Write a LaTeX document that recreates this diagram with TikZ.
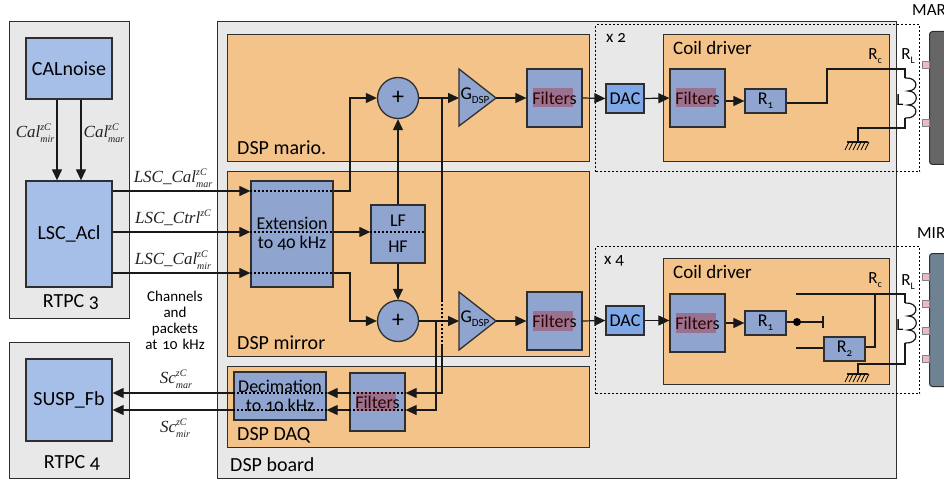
\documentclass[tikz,border=0pt]{standalone}
\usepackage{fontspec}
\usetikzlibrary{arrows.meta,shapes.geometric,calc}
\setmainfont[Numbers=OldStyle]{Carlito}
\newfontfamily\labfont{Liberation Serif}
\definecolor{panel}{HTML}{E8E8E8}
\definecolor{orng}{HTML}{F3C389}
\definecolor{lblue}{HTML}{A6BFE9}
\definecolor{mblue}{HTML}{8FA4CF}
\definecolor{dacblue}{HTML}{80A8E6}
\definecolor{edge}{HTML}{2F2F2F}
\definecolor{pinkp}{HTML}{EDB8C8}
\definecolor{marg}{HTML}{666666}
\definecolor{mirg}{HTML}{6F8294}
\definecolor{labc}{HTML}{222222}
\newcommand{\fs}[1]{\fontsize{#1}{#1}\selectfont}
\newcommand{\stk}[3]{{\labfont\itshape\color{labc}\fs{17}#1\rlap{\raisebox{7pt}{\fs{10}#2}}\raisebox{-5pt}{\fs{10}#3}}}
\newcommand{\gndmark}[1]{%
  \draw[wire] ($(#1)+(-11,0)$) -- ($(#1)+(10,0)$);
  \foreach \k in {-8,-4,0,4,8,12}{\draw[line width=.8pt] ($(#1)+(\k-1,0)$) -- ($(#1)+(\k-5,8)$);}
}
\newcommand{\coilpath}[2]{%
  \draw[wire] (#1) .. controls ($(#1)+(14,-1)$) and ($(#1)+(14,13)$) .. ($(#1)+(3,13)$)
   .. controls ($(#1)+(14,13)$) and ($(#1)+(14,27)$) .. ($(#1)+(3,27)$)
   .. controls ($(#1)+(14,27)$) and ($(#1)+(14,41)$) .. (#2);
}
\tikzset{
  x=1pt,y=-1pt,
  wire/.style={line width=1.2pt,draw=black!90},
  arr/.style={wire,-{Triangle[length=11pt,width=10pt]}},
  dots/.style={line width=1.1pt,draw=black,dash pattern=on 2pt off 2pt},
  frame/.style={draw=edge,line width=1.2pt,anchor=north west,inner sep=0pt},
  pan/.style={frame,fill=panel},
  org/.style={frame,fill=orng},
  lbox/.style={draw=edge,line width=1.3pt,fill=lblue,inner sep=0pt,font=\fs{20}},
  mbox/.style={draw=edge,line width=1.3pt,fill=mblue,inner sep=0pt,font=\fs{18},align=center},
  dacbox/.style={draw=edge,line width=1.3pt,fill=dacblue,inner sep=0pt,font=\fs{18}},
  circ/.style={circle,draw=edge,line width=1.3pt,fill=mblue,minimum size=41pt,inner sep=0pt,font=\fs{24}},
  tri/.style={draw=edge,line width=1.3pt,fill=mblue},
  title/.style={anchor=west,inner sep=0pt,font=\fs{20}},
  ctitle/.style={inner sep=0pt,font=\fs{20}},
  small/.style={inner sep=0pt,font=\fs{15},align=center},
  dbox/.style={draw=black,line width=1.1pt,dash pattern=on 2pt off 2pt,anchor=north west,inner sep=0pt},
  hl/.style={fill=red!70!black,fill opacity=.3,draw=none,inner sep=0pt,minimum width=40pt,minimum height=19.5pt},
  mass/.style={rounded corners=3pt,draw=edge,line width=1pt,anchor=north west,inner sep=0pt},
  padp/.style={draw=edge!60,line width=.6pt,fill=pinkp,minimum size=7pt,inner sep=0pt},
  rval/.style={inner sep=0pt,font=\fs{17}}
}
\begin{document}
\begin{tikzpicture}
\useasboundingbox (0,0) rectangle (944,481);
\clip (0,0) rectangle (944,481);
% panels
\node[pan,minimum width=120pt,minimum height=297pt] (rtpc3) at (9,21) {};
\node[pan,minimum width=120pt,minimum height=136pt] (rtpc4) at (9,342) {};
\node[pan,minimum width=679pt,minimum height=457pt] (board) at (217,21) {};
\node[org,minimum width=362pt,minimum height=127pt] (mario) at (227,34) {};
\node[org,minimum width=362pt,minimum height=185pt] (mirror) at (227,171) {};
\node[org,minimum width=362pt,minimum height=81pt] (daq) at (227,366) {};
\node[org,minimum width=226pt,minimum height=127pt] (coila) at (663,34) {};
\node[org,minimum width=226pt,minimum height=126pt] (coilb) at (663,258) {};
\node[dbox,minimum width=324pt,minimum height=147pt] (xa) at (595,24) {};
\node[dbox,minimum width=324pt,minimum height=147pt] (xb) at (595,246) {};
% masses
\node[mass,fill=marg,minimum width=40pt,minimum height=133pt] (marblock) at (929,31) {};
\node[mass,fill=mirg,minimum width=40pt,minimum height=133pt] (mirblock) at (929,253) {};
\node[padp] (pa1) at (926,65) {};
\node[padp] (pa2) at (926,123) {};
\node[padp] (pb1) at (926,277) {};
\node[padp] (pb2) at (926,304) {};
\node[padp] (pb3) at (926,331) {};
\node[padp] (pb4) at (926,359) {};
% blocks
\node[lbox,minimum width=86pt,minimum height=61pt] (cal) at (69,68.5) {CALnoise};
\node[lbox,minimum width=86pt,minimum height=106pt] (acl) at (69,234) {LSC\_Acl};
\node[lbox,minimum width=86pt,minimum height=82pt] (susp) at (69,400) {SUSP\_Fb};
\node[mbox,minimum width=82pt,minimum height=106pt] (ext) at (292,234) {Extension\\[1pt]to 40 kHz};
\node[mbox,minimum width=54pt,minimum height=58pt] (lfhf) at (398,234) {LF\\[8pt]HF};
\node[circ] (pa) at (398,98) {+};
\node[circ] (pb) at (398,321) {+};
\node[mbox,minimum width=55pt,minimum height=58pt] (fa) at (554.5,98) {Filters};
\node[mbox,minimum width=55pt,minimum height=58pt] (fb) at (554.5,321) {Filters};
\node[mbox,minimum width=55pt,minimum height=58pt] (fd) at (377.5,402) {Filters};
\node[mbox,minimum width=92pt,minimum height=48pt] (dec) at (280,396) {Decimation\\[1pt]to 10 kHz};
\node[dacbox,minimum width=38pt,minimum height=29pt] (daca) at (625,98.5) {DAC};
\node[dacbox,minimum width=38pt,minimum height=29pt] (dacb) at (625,320.5) {DAC};
\node[mbox,minimum width=55pt,minimum height=58pt] (fca) at (697.5,98) {Filters};
\node[mbox,minimum width=55pt,minimum height=58pt] (fcb) at (697.5,323) {Filters};
\node[mbox,minimum width=41pt,minimum height=24pt] (ra) at (765.5,101) {R\raisebox{-4pt}{\fs{11}1}};
\node[mbox,minimum width=41pt,minimum height=24pt] (rb) at (765.5,323) {R\raisebox{-4pt}{\fs{11}1}};
\node[mbox,minimum width=41pt,minimum height=24pt] (rc) at (844.5,349) {R\raisebox{-4pt}{\fs{11}2}};
% gains
\draw[tri] (459,69) -- (496,98) -- (459,126) -- cycle;
\draw[tri] (459,292) -- (496,321) -- (459,350) -- cycle;
\node[inner sep=0pt,font=\fs{18}] (ga) at (475,96) {G\raisebox{-4pt}{\fs{11}DSP}};
\node[inner sep=0pt,font=\fs{18}] (gb) at (475,319) {G\raisebox{-4pt}{\fs{11}DSP}};
\coordinate (gaw) at (459,98); \coordinate (gae) at (496,98);
\coordinate (gbw) at (459,321); \coordinate (gbe) at (496,321);
% coordinates of signal levels
\coordinate (ymar) at (0,191);
\coordinate (yctl) at (0,232);
\coordinate (ymir) at (0,273);
\coordinate (yca) at (0,393);
\coordinate (ycb) at (0,410);
\coordinate (xa1) at (350,0);
\coordinate (vA) at (442,98);
\coordinate (vB) at (436,321);
\coordinate (vAs) at (442,300);
\coordinate (vAe) at (442,345);
% connectors
\draw[arr] (cal.south -| 57,0) -- (acl.north -| 57,0);
\draw[arr] (cal.south -| 81,0) -- (acl.north -| 81,0);
\draw[arr] (acl.east |- ymar) -- (ext.west |- ymar);
\draw[arr] (acl.east |- yctl) -- (ext.west |- yctl);
\draw[arr] (acl.east |- ymir) -- (ext.west |- ymir);
\draw[arr] (ext.east |- ymar) -| (xa1 |- pa.west) -- (pa.west);
\draw[arr] (ext.east |- ymir) -| (xa1 |- pb.west) -- (pb.west);
\draw[arr] (ext.east |- yctl) -- (lfhf.west |- yctl);
\draw[arr] (lfhf.north) -- (pa.south);
\draw[arr] (lfhf.south) -- (pb.north);
\draw[arr] (pa.east) -- (gaw);
\draw[arr] (pb.east) -- (gbw);
\draw[arr] (gae) -- (fa.west);
\draw[arr] (gbe) -- (fb.west);
\draw[arr] (fa.east) -- (daca.west);
\draw[arr] (fb.east) -- (dacb.west);
\draw[arr] (daca.east) -- (fca.west);
\draw[arr] (dacb.east) -- (fcb.west |- dacb.east);
\draw[arr] (fca.east |- ra.west) -- (ra.west);
\draw[arr] (fcb.east |- rb.west) -- (rb.west);
\draw[wire] (vA) -- (vAs);
\draw[dots] (vAs) -- (vAe);
\draw[arr] (vAe) |- (fd.east |- yca);
\draw[arr] (vB) |- (fd.east |- ycb);
\draw[arr] (fd.west |- yca) -- (dec.east |- yca);
\draw[arr] (fd.west |- ycb) -- (dec.east |- ycb);
\draw[arr] (dec.west |- yca) -- (susp.east |- yca);
\draw[arr] (dec.west |- ycb) -- (susp.east |- ycb);
% dotted through-lines
\foreach \n in {ext} {
  \draw[dots] (\n.west |- ymar) -- (\n.east |- ymar);
  \draw[dots] (\n.west |- yctl) -- (\n.east |- yctl);
  \draw[dots] (\n.west |- ymir) -- (\n.east |- ymir);
}
\draw[dots] (lfhf.west |- yctl) -- (lfhf.east |- yctl);
\foreach \n in {fd,dec} {
  \draw[dots] (\n.west |- yca) -- (\n.east |- yca);
  \draw[dots] (\n.west |- ycb) -- (\n.east |- ycb);
}
% filter highlights
\node[hl] (ha) at (553,97.5) {};
\node[hl] (hb) at (553,321) {};
\node[hl] (hd) at (376,401.5) {};
\node[hl] (hca) at (696,97.5) {};
\node[hl] (hcb) at (696,323) {};
% coil driver A wiring
\coordinate (wa1) at (827,103);
\coordinate (wa2) at (827,69);
\coordinate (wa3) at (905,69);
\coordinate (ca1) at (905,78);
\coordinate (ca2) at (905,118);
\coordinate (wa4) at (905,128);
\coordinate (ga1) at (858,128);
\coordinate (ga2) at (858,142);
\draw[wire] (ra.east |- wa1) -- (wa1) -- (wa2) -- (wa3) -- (ca1);
\coilpath{ca1}{ca2}
\draw[wire] (ca2) -- (wa4) -- (ga1) -- (ga2);
\gndmark{ga2}
% coil driver B wiring
\coordinate (wb0) at (796,294);
\coordinate (wb3) at (905,294);
\coordinate (cb1) at (905,303);
\coordinate (cb2) at (905,343);
\coordinate (wb4) at (905,364);
\coordinate (gb1) at (858,364);
\coordinate (gb2) at (858,374);
\coordinate (dot) at (797,322);
\coordinate (tee) at (823,322);
\coordinate (wb5) at (796,348);
\coordinate (wb6) at (875,347);
\coordinate (wb7) at (875,294);
\draw[wire] (wb0) -- (wb3) -- (cb1);
\coilpath{cb1}{cb2}
\draw[wire] (cb2) -- (wb4) -- (gb1) -- (gb2);
\gndmark{gb2}
\draw[wire] (rb.east |- dot) -- (tee);
\draw[wire] (823,316) -- (823,328);
\fill (dot) circle (4pt);
\draw[wire] (wb5) -- (rc.west |- wb5);
\draw[wire] (rc.east |- wb6) -- (wb6) -- (wb7);
% titles
\node[ctitle] (t3) at (71,302) {RTPC 3};
\node[ctitle] (t4) at (72,463) {RTPC 4};
\node[title] (tm) at (237,148) {DSP mario.};
\node[title] (ti) at (237,343) {DSP mirror};
\node[title] (td) at (237,435) {DSP DAQ};
\node[title] (tb) at (230,465) {DSP board};
\node[title,font=\fs{19}] (tca) at (673,48) {Coil driver};
\node[title,font=\fs{19}] (tcb) at (673,272) {Coil driver};
\node[title,font=\fs{17}] (tx2) at (606,38) {x 2};
\node[title,font=\fs{17}] (tx4) at (604,261) {x 4};
\node[title,font=\fs{17}] (tmar) at (912,10) {MAR};
\node[title,font=\fs{17}] (tmir) at (917,233) {MIR};
\node[rval] (rca) at (875,56) {R\raisebox{-4pt}{\fs{10}c}};
\node[rval] (rla) at (908,56) {R\raisebox{-4pt}{\fs{10}L}};
\node[rval] (la) at (900,100) {L};
\node[rval] (rcb) at (875,280) {R\raisebox{-4pt}{\fs{10}c}};
\node[rval] (rlb) at (908,282) {R\raisebox{-4pt}{\fs{10}L}};
\node[rval] (lb) at (900,325) {L};
% signal labels
\node[inner sep=0pt] (l1) at (35,133) {\stk{Cal}{zC}{mir}};
\node[inner sep=0pt] (l2) at (104,133) {\stk{Cal}{zC}{mar}};
\node[inner sep=0pt] (l3) at (173,178) {\stk{LSC\_Cal}{zC}{mar}};
\node[inner sep=0pt] (l4) at (173,218) {{\labfont\itshape\color{labc}\fs{17}LSC\_Ctrl\raisebox{7pt}{\fs{10}zC}}};
\node[inner sep=0pt] (l5) at (173,260) {\stk{LSC\_Cal}{zC}{mir}};
\node[inner sep=0pt] (l6) at (176,379) {\stk{Sc}{zC}{mar}};
\node[inner sep=0pt] (l7) at (175,428) {\stk{Sc}{zC}{mir}};
\node[small,text width=90pt] (chan) at (175,320) {Channels\\[1pt]and\\[1pt]packets\\[1pt]at 10 kHz};
\end{tikzpicture}
\end{document}
